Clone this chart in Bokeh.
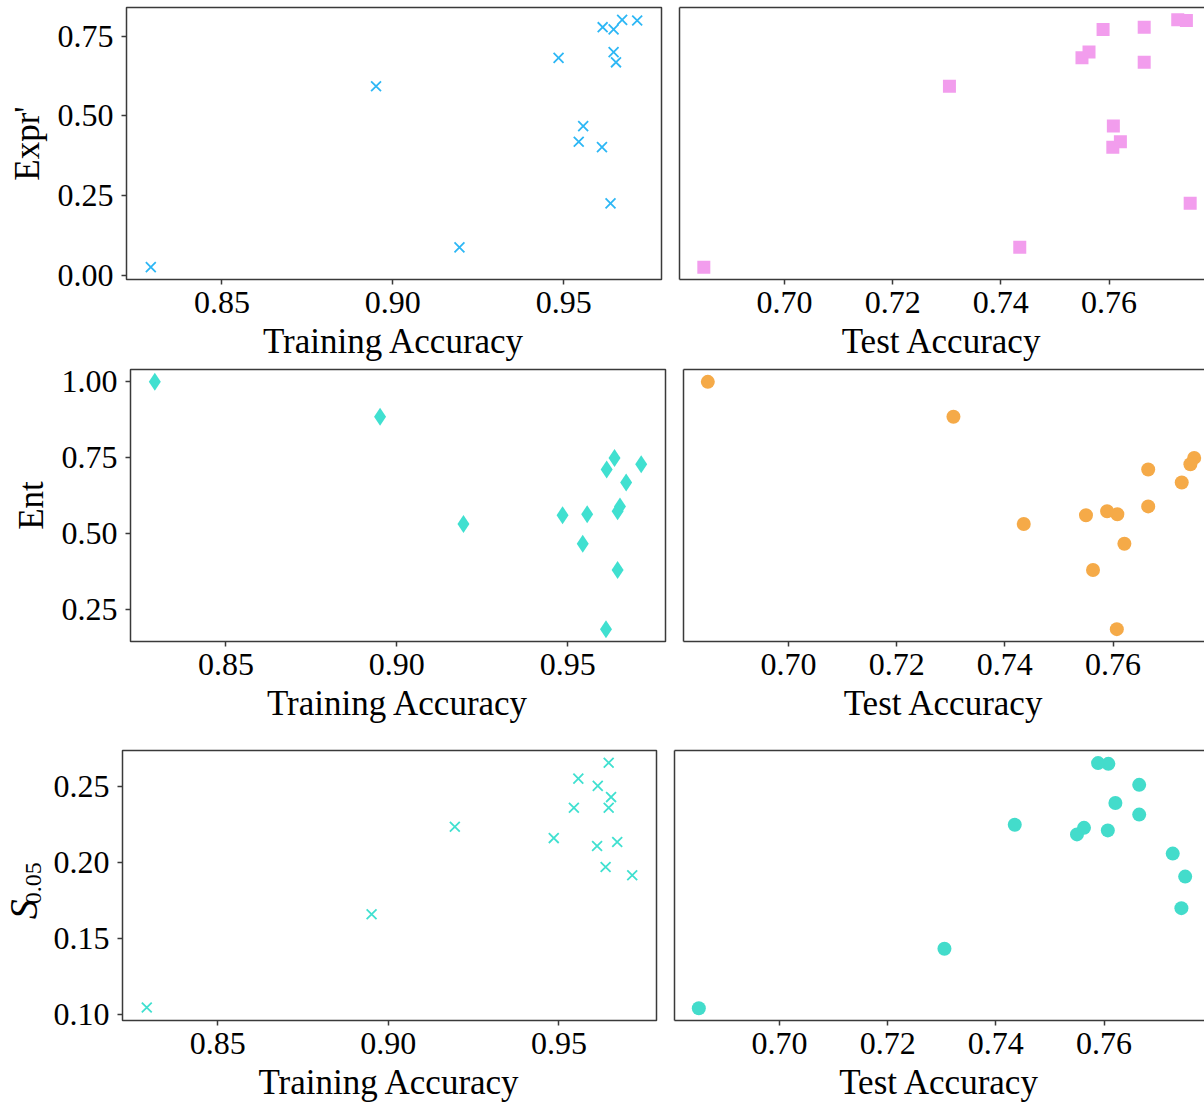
import math

from bokeh.plotting import figure
from bokeh.layouts import column, row
from bokeh.models import Range1d, FixedTicker, NumeralTickFormatter, LinearAxis
from bokeh.core.properties import value
from bokeh.embed import file_html
from bokeh.resources import INLINE

# ---- data: one entry per trained model ----
train_acc = [0.8292, 0.8951, 0.9195, 0.9485, 0.9544, 0.9557, 0.9612,
             0.9614, 0.9637, 0.9646, 0.9646, 0.9653, 0.9671, 0.9715]
test_acc = [0.6851, 0.7305, 0.7435, 0.7550, 0.7621, 0.7608, 0.7607,
            0.7665, 0.7750, 0.7563, 0.7589, 0.7665, 0.7727, 0.7743]
expr_score = [0.026, 0.593, 0.088, 0.682, 0.419, 0.468, 0.402,
              0.778, 0.226, 0.700, 0.771, 0.668, 0.801, 0.799]
ent_score = [1.000, 0.885, 0.531, 0.560, 0.466, 0.563, 0.184,
             0.711, 0.749, 0.379, 0.573, 0.589, 0.668, 0.728]
s_train = [0.1048, 0.166, 0.2234, 0.216, 0.2359, 0.255, 0.2108,
           0.2502, 0.197, 0.2654, 0.2359, 0.2429, 0.2134, 0.1916]
s_test = [0.1043, 0.1433, 0.2247, 0.2184, 0.239, 0.2647, 0.221,
          0.2509, 0.1907, 0.2227, 0.2652, 0.2314, 0.2058, 0.170]

train_ticks = [0.85, 0.90, 0.95]
test_ticks = [0.70, 0.72, 0.74, 0.76]
expr_ticks = [0.00, 0.25, 0.50, 0.75]
ent_ticks = [0.25, 0.50, 0.75, 1.00]
s_ticks = [0.10, 0.15, 0.20, 0.25]

FONT = "Liberation Serif"
TICK_SIZE = "32px"
LABEL_SIZE = "35px"
SPINE = "#3a3a3a"
SPINE_W = 1.5
FRAME_W = 535
FRAME_H = 272
PAGE_W = 1204
GAP = 16
TICK_STANDOFF = 7
LABEL_STANDOFF = 6


def padded(*series):
    vals = [v for s in series for v in s]
    lo, hi = min(vals), max(vals)
    pad = 0.05 * (hi - lo)
    return lo - pad, hi + pad


def plain_ticks(axis, ticks, standoff):
    axis.ticker = FixedTicker(ticks=ticks)
    axis.formatter = NumeralTickFormatter(format="0.00")
    axis.major_label_text_font = FONT
    axis.major_label_text_font_size = TICK_SIZE
    axis.major_label_text_color = "black"
    axis.major_tick_out = 5
    axis.major_tick_in = 0
    axis.minor_tick_out = 0
    axis.minor_tick_in = 0
    axis.major_tick_line_color = SPINE
    axis.major_tick_line_width = SPINE_W
    axis.major_label_standoff = standoff


def axis_title(axis, text, standoff):
    axis.axis_label = text
    axis.axis_label_text_font = FONT
    axis.axis_label_text_font_size = LABEL_SIZE
    axis.axis_label_text_font_style = "normal"
    axis.axis_label_text_color = "black"
    axis.axis_label_standoff = standoff


def base_figure(width, height, x_range, y_range, left, right, top, bottom):
    p = figure(width=width, height=height, x_range=x_range, y_range=y_range,
               output_backend="svg", toolbar_location=None,
               min_border_left=left, min_border_right=right,
               min_border_top=top, min_border_bottom=bottom,
               background_fill_color="white", border_fill_color="white")
    p.grid.visible = False
    return p


def draw(p, xs, ys, marker, color, size, lw):
    if marker == "x":
        p.scatter(xs, ys, marker="x", size=size, line_color=color, line_width=lw)
    else:
        p.scatter(xs, ys, marker=marker, size=size, fill_color=color, line_color=None)


def left_panel(xs, ys, yr, yticks, ylabel, left, top, bottom, marker, color, size, lw=0):
    p = base_figure(left + FRAME_W + 2, top + FRAME_H + bottom,
                    Range1d(*padded(train_acc)), Range1d(*yr),
                    left, 2, top, bottom)
    p.outline_line_color = SPINE
    p.outline_line_width = SPINE_W
    xaxis, yaxis = p.xaxis[0], p.yaxis[0]
    xaxis.axis_line_color = None
    yaxis.axis_line_color = None
    plain_ticks(xaxis, train_ticks, TICK_STANDOFF)
    axis_title(xaxis, "Training Accuracy", LABEL_STANDOFF)
    plain_ticks(yaxis, yticks, 8)
    if ylabel:
        axis_title(yaxis, ylabel, 8)
    draw(p, xs, ys, marker, color, size, lw)
    return p


def right_panel(xs, ys, yr, used, top, bottom, marker, color, size, lw=0):
    visible = PAGE_W - used - GAP
    x0, x1 = padded(test_acc)
    # same frame width as the left panel; the page edge cuts it off
    x_end = x0 + (x1 - x0) * visible / FRAME_W
    p = base_figure(GAP + visible, top + FRAME_H + bottom,
                    Range1d(x0, x_end), Range1d(*yr), GAP, 0, top, bottom)
    p.outline_line_color = None
    xaxis, yaxis = p.xaxis[0], p.yaxis[0]
    plain_ticks(xaxis, test_ticks, TICK_STANDOFF)
    axis_title(xaxis, "Test Accuracy", LABEL_STANDOFF)
    xaxis.axis_line_color = SPINE
    xaxis.axis_line_width = SPINE_W
    yaxis.ticker = FixedTicker(ticks=[])
    yaxis.major_tick_out = 0
    yaxis.major_tick_in = 0
    yaxis.minor_tick_out = 0
    yaxis.minor_tick_in = 0
    yaxis.major_label_standoff = 0
    yaxis.axis_line_color = SPINE
    yaxis.axis_line_width = SPINE_W
    top_axis = LinearAxis(ticker=FixedTicker(ticks=[]),
                          major_tick_out=0, major_tick_in=0,
                          minor_tick_out=0, minor_tick_in=0,
                          major_label_standoff=0,
                          axis_line_color=SPINE, axis_line_width=SPINE_W)
    p.add_layout(top_axis, "above")
    draw(p, xs, ys, marker, color, size, lw)
    return p


# row 1: Expr'
expr_range = padded(expr_score)
p1 = left_panel(train_acc, expr_score, expr_range, expr_ticks, "Expr'", 126, 7, 85,
                "x", "#2db7f5", 14, 1.8)
p2 = right_panel(test_acc, expr_score, expr_range, 126 + FRAME_W + 2, 7, 85,
                 "square", "#f29ded", 13)

# row 2: Ent
ent_range = padded(ent_score)
p3 = left_panel(train_acc, ent_score, ent_range, ent_ticks, "Ent", 130, 5, 101,
                "diamond", "#40e0d0", 18)
p4 = right_panel(test_acc, ent_score, ent_range, 130 + FRAME_W + 2, 5, 101,
                 "circle", "#f5aa48", 14)

# row 3: S_0.05, y scale shared by both panels
s_range = padded(s_train, s_test)
GUTTER = 50
TOP3, BOTTOM3 = 8, 82
row3_h = TOP3 + FRAME_H + BOTTOM3
p5 = left_panel(train_acc, s_train, s_range, s_ticks, "", 121 - GUTTER, TOP3, BOTTOM3,
                "x", "#40e0d0", 14, 1.8)
p6 = right_panel(test_acc, s_test, s_range, 121 + FRAME_W + 2, TOP3, BOTTOM3,
                 "circle", "#43dccb", 14)

# y title with a subscript, set in a narrow strip left of the axis
gutter = figure(width=GUTTER, height=row3_h, x_range=Range1d(0, GUTTER),
                y_range=Range1d(0, row3_h), output_backend="svg",
                toolbar_location=None, min_border=0,
                x_axis_location=None, y_axis_location=None,
                outline_line_color=None, background_fill_color="white",
                border_fill_color="white")
gutter.grid.visible = False
mid = row3_h - (TOP3 + FRAME_H / 2)
gutter.text(x=[22.5], y=[mid - 69], text=["S"], angle=math.pi / 2,
            text_font=value(FONT), text_font_style="italic",
            text_font_size="40px", text_align="center",
            text_baseline="middle", text_color="black")
gutter.text(x=[32.5], y=[mid - 34], text=["0.05"], angle=math.pi / 2,
            text_font=value(FONT), text_font_size="24px", text_align="center",
            text_baseline="middle", text_color="black")

layout = column(row(p1, p2), row(p3, p4), row(gutter, p5, p6))

open("out.html", "w").write(file_html(layout, INLINE, title="Accuracy vs. measures"))
